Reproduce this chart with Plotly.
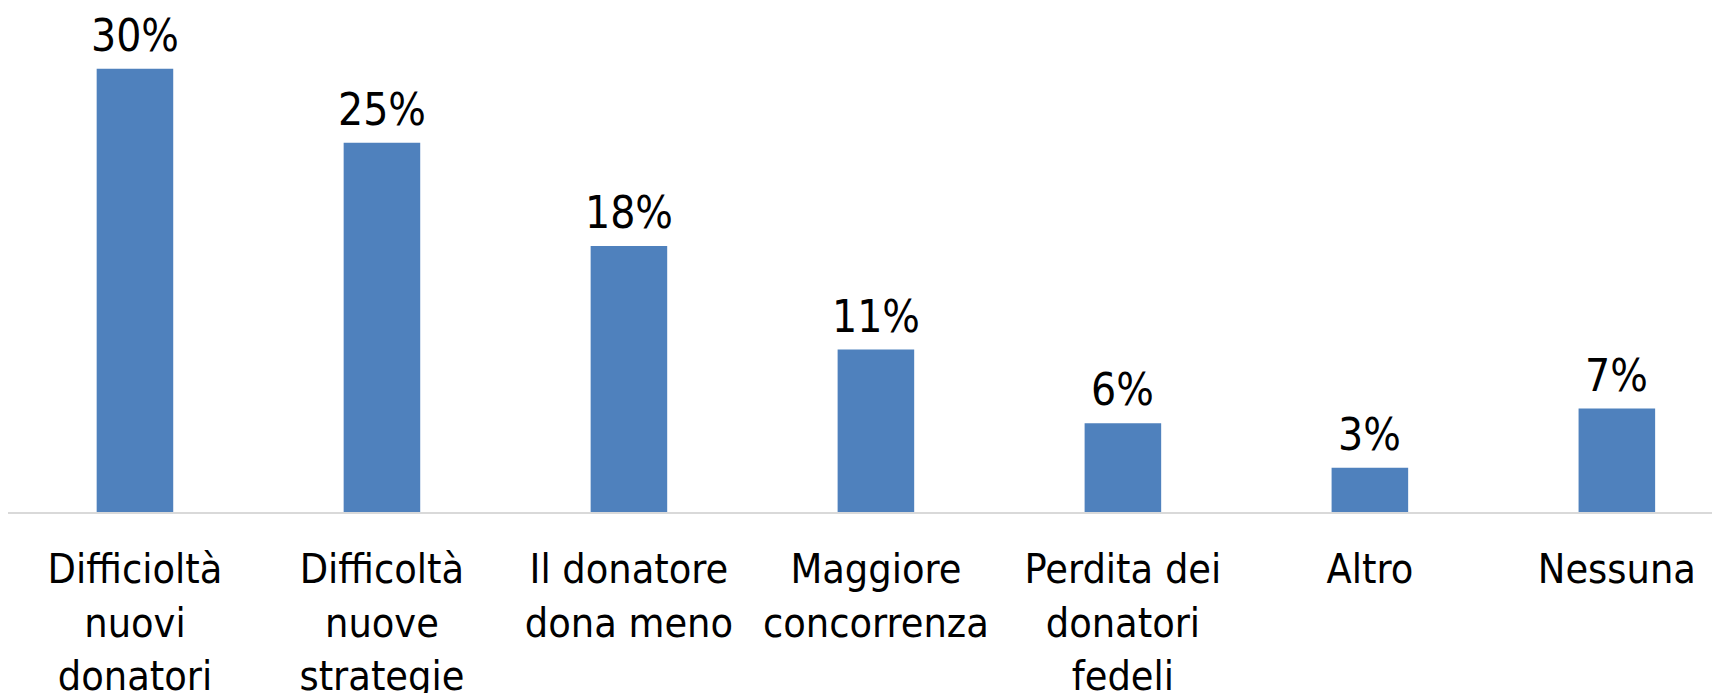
import plotly.graph_objects as go

categories = [
    "Difficioltà<br>nuovi<br>donatori",
    "Difficoltà<br>nuove<br>strategie",
    "Il donatore<br>dona meno",
    "Maggiore<br>concorrenza",
    "Perdita dei<br>donatori<br>fedeli",
    "Altro",
    "Nessuna",
]
values = [30, 25, 18, 11, 6, 3, 7]
labels = [f"{v}%" for v in values]

FONT = "DejaVu Sans Condensed, DejaVu Sans, sans-serif"

fig = go.Figure()
fig.add_trace(
    go.Bar(
        x=categories,
        y=values,
        marker=dict(color="#4F81BD", line=dict(width=0)),
        width=0.31,
    )
)

# value labels above the bars
for cat, val, lab in zip(categories, values, labels):
    fig.add_annotation(
        x=cat, y=val, text=lab, showarrow=False,
        yanchor="bottom", yshift=6,
        font=dict(family=FONT, size=44, color="#000000"),
    )

# the page body adds an 8px margin, so the figure is laid out relative to that
fig.update_layout(
    width=1720,
    height=693,
    margin=dict(l=0, r=0, t=0, b=189),
    paper_bgcolor="white",
    plot_bgcolor="white",
    showlegend=False,
    font=dict(family=FONT, size=41, color="#000000"),
)
fig.update_xaxes(
    range=[-0.514, 6.45],
    showline=True,
    linecolor="#D9D9D9",
    linewidth=2,
    showgrid=False,
    ticks="outside",
    ticklen=20,
    tickcolor="rgba(0,0,0,0)",
    tickfont=dict(family=FONT, size=41, color="#000000"),
    tickangle=0,
)
fig.update_yaxes(
    range=[0, 34.12],
    visible=False,
    showgrid=False,
)

fig.write_html("out.html")
